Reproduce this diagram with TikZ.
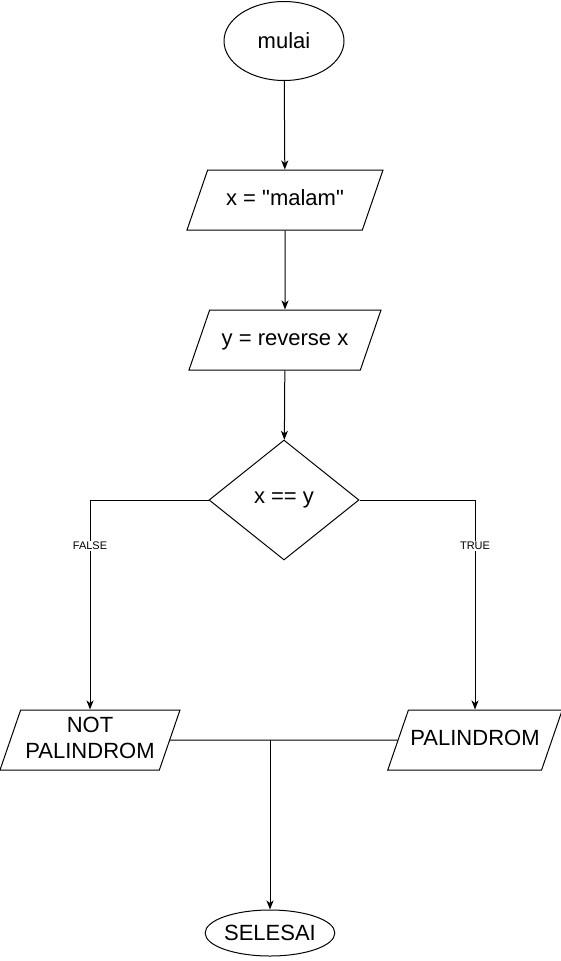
\documentclass[tikz,border=0pt]{standalone}
\usepackage{fontspec}
\setmainfont{Liberation Sans}
\usepackage{tikz}
\usetikzlibrary{arrows.meta,shapes.geometric,positioning}
\tikzset{>={Stealth[length=9pt,width=7pt,inset=2.5pt]}}
\tikzset{
  term/.style={draw, ellipse, inner sep=0pt},
  io/.style={draw, trapezium, trapezium left angle=71, trapezium right angle=109,
    trapezium stretches body, text height=16pt, text depth=5pt,
    inner xsep=2pt, inner ysep=19.5pt, align=center},
  cek/.style={draw, diamond, minimum width=150pt, minimum height=120pt, inner sep=0pt},
  lbl/.style={fill=white, font=\fontsize{11}{13}\selectfont, inner sep=1pt}
}

\begin{document}
\begin{tikzpicture}[x=1pt,y=-1pt,line width=1pt,font=\fontsize{22}{26}\selectfont]
                    \useasboundingbox (0,0) rectangle (561,961);
                    \node[term, minimum width=120pt, minimum height=79pt] (mulai) at (284,41) {mulai};
                    \node[io, minimum width=196pt] (xin) at (285,200) {x = \textquotedbl{}malam\textquotedbl};
                    \node[io, minimum width=192pt] (yrev) at (285,340) {y = reverse x};
                    \node[cek] (cek) at (284,500) {x == y};
                    \node[io, minimum width=180pt, text height=42pt, inner ysep=6.5pt] (notp) at (90,740) {NOT\\PALINDROM};
                    \node[io, minimum width=171pt] (palin) at (475,740) {PALINDROM};
                    \node[term, minimum width=120pt, minimum height=46pt] (selesai) at (270,933) {SELESAI};
                    \draw[->] (mulai) -- (xin);
                    \draw[->] (xin) -- (yrev);
                    \draw[->] (yrev) -- (cek);
                    \draw[->] (cek.west) -| node[lbl, pos=0.61] {FALSE} (notp.north);
                    \draw[->] (cek.east) -| node[lbl, pos=0.61] {TRUE} (palin.north);
                    \draw (notp.east) -- (palin.west);
                    \draw[->] (notp.east -| selesai.north) -- (selesai);
                \end{tikzpicture}
\end{document}
